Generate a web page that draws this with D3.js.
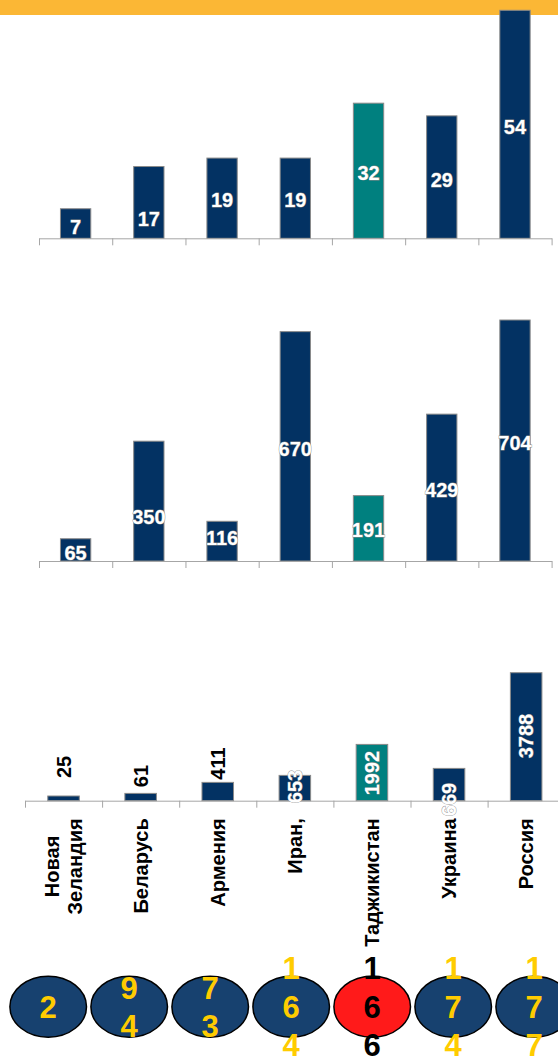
<!DOCTYPE html>
<html><head><meta charset="utf-8">
<script src="https://cdn.jsdelivr.net/npm/d3@7"></script>
<style>
body{margin:0;background:#fff}
svg{display:block}
text{font-family:"Liberation Sans",Arial,sans-serif;font-weight:bold}
</style>
</head><body>
<svg id="c" width="558" height="1057"></svg>
<script>
// ---------- data ----------
const categories = ["Новая\nЗеландия","Беларусь","Армения","Иран,","Таджикистан","Украина","Россия"];
const highlighted = "Таджикистан";
const series1 = [7, 17, 19, 19, 32, 29, 54];
const series2 = [65, 350, 116, 670, 191, 429, 704];
const labels3 = [25, 61, 411, 653, 1992, 669, 3788];
// bar heights of the third panel (bars are not proportional to their labels)
const bars3 = [139, 216, 542, 749, 1666, 956, 3788];
const ranks = ["2", "94", "73", "164", "166", "174", "177"];

// ---------- layout constants ----------
const NAVY = "#033263", TEAL = "#00807f", YELLOW = "#FFCC00";
const nudge1 = [3.5, 16, 2, 2, 2.5, 3, 3];
const nudge2 = [3, 15.7, -3.7, 3, 2, 2.5, 2.5];
const nudge3 = [-31.4, -21, -28, -1.5, 0.5, 15, -0.7];

const svg = d3.select("#c");
svg.append("rect").attr("x", 0).attr("y", 0).attr("width", 558).attr("height", 15).attr("fill", "#FBB735");

function panel(o) {
  const g = svg.append("g");
  const x = d3.scaleBand().domain(categories).range(o.xr).padding(0);
  const idx = d3.scaleLinear().domain([0, categories.length]).range(o.xr);
  const y = d3.scaleLinear().domain([0, o.max]).range([o.base, o.top]);
  const bw = x.bandwidth() * o.frac;
  const cx = c => x(c) + x.bandwidth() / 2;

  g.selectAll("rect.bar").data(o.values).join("rect")
    .attr("class", "bar")
    .attr("x", (d, i) => cx(categories[i]) - bw / 2)
    .attr("y", d => y(d))
    .attr("width", bw)
    .attr("height", d => y(0) - y(d))
    .attr("fill", (d, i) => categories[i] === highlighted ? TEAL : NAVY)
    .attr("stroke", "#8a8a8a").attr("stroke-width", 1);

  const ax = g.append("g").attr("transform", `translate(0,${y(0)})`)
    .call(d3.axisBottom(idx).tickValues(d3.range(categories.length + 1)).tickSize(7).tickSizeOuter(0).tickFormat(""));
  ax.selectAll("path,line").attr("stroke", "#a6a6a6").attr("stroke-width", 1);

  const fs = o.fs;
  g.selectAll("text.val").data(o.values).join("text")
    .attr("class", "val")
    .attr("text-anchor", "middle")
    .attr("font-size", fs)
    .attr("fill", (d, i) => o.labelFill(i))
    .attr("stroke", (d, i) => o.labelFill(i) === "#fff" ? "#8a8a8a" : "none")
    .attr("stroke-width", 0.8)
    .attr("paint-order", "stroke")
    .each(function (d, i) {
      const mid = (y(d) + y(0)) / 2 + o.nudge[i];
      const t = d3.select(this).text(o.labels[i]);
      if (o.rotate) {
        t.attr("transform", `translate(${cx(categories[i])},${mid}) rotate(-90)`)
         .attr("x", 0).attr("y", 0.358 * fs);
      } else {
        t.attr("x", cx(categories[i])).attr("y", mid + 0.358 * fs);
      }
    });
  return {x, cx};
}

panel({xr: [39, 551.6], base: 238.3, top: 10.3, max: d3.max(series1), values: series1, labels: series1,
       frac: 0.414, fs: 20, nudge: nudge1, labelFill: () => "#fff", rotate: false});
panel({xr: [39, 551.6], base: 561, top: 320, max: d3.max(series2), values: series2, labels: series2,
       frac: 0.414, fs: 20, nudge: nudge2, labelFill: () => "#fff", rotate: false});
const p3 = panel({xr: [25, 25 + 7 * 77.1], base: 800.7, top: 672.7, max: d3.max(bars3), values: bars3, labels: labels3,
       frac: 0.409, fs: 20, nudge: nudge3, labelFill: i => i < 3 ? "#000" : "#fff", rotate: true});

// category labels (rotated, text end at the top)
const catFs = 20, lineH = 23, topY = 818.3;
categories.forEach((c, i) => {
  const lines = c.split("\n");
  const cx = p3.cx(c);
  const nodes = lines.map((ln, k) => svg.append("text")
    .attr("font-size", catFs).attr("fill", "#000").attr("text-anchor", "middle")
    .attr("x", 0).attr("y", 0.358 * catFs).text(ln));
  const W = d3.max(nodes, n => n.node().getComputedTextLength());
  nodes.forEach((n, k) => {
    const off = (k - (lines.length - 1) / 2) * lineH;
    n.attr("transform", `translate(${cx + off},${topY + W / 2}) rotate(-90)`);
  });
});

// rank ellipses
const ex = d3.scaleBand().domain(categories).range([7.7, 7.7 + 81 * 7]).padding(0);
const ecy = 1006.7, rx = 38.3, ry = 30.5, dfs = 31, step = 38.5;
const eg = svg.append("g");
eg.selectAll("ellipse").data(categories).join("ellipse")
  .attr("cx", c => ex(c) + ex.bandwidth() / 2).attr("cy", ecy)
  .attr("rx", rx).attr("ry", ry)
  .attr("fill", c => c === highlighted ? "#FF1A1A" : "#17416F")
  .attr("stroke", "#000").attr("stroke-width", 1.5);
categories.forEach((c, i) => {
  const digits = ranks[i].split("");
  digits.forEach((dg, k) => {
    eg.append("text")
      .attr("x", ex(c) + ex.bandwidth() / 2)
      .attr("y", ecy + (k - (digits.length - 1) / 2) * step + 0.358 * dfs)
      .attr("text-anchor", "middle").attr("font-size", dfs)
      .attr("fill", c === highlighted ? "#000" : YELLOW)
      .text(dg);
  });
});
</script>
</body></html>
